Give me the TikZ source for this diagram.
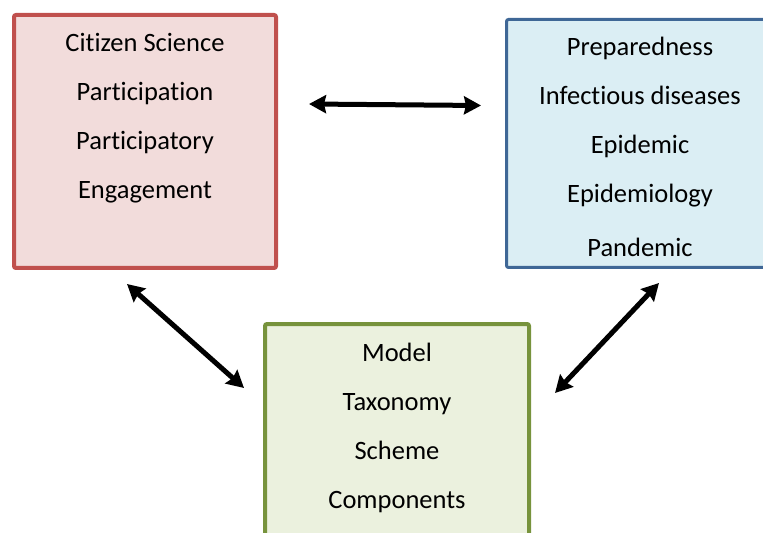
\documentclass[tikz,border=0pt]{standalone}
\usepackage{fontspec}
\setmainfont{Carlito}[Ligatures={NoCommon,NoRare,NoDiscretionary}]
\usetikzlibrary{arrows.meta}
\definecolor{redline}{HTML}{C0504D}
\definecolor{redfill}{HTML}{F2DCDB}
\definecolor{blueline}{HTML}{3F6796}
\definecolor{bluefill}{HTML}{DBEEF4}
\definecolor{greenline}{HTML}{77933C}
\definecolor{greenfill}{HTML}{EBF1DE}
\tikzset{
  box/.style={rounded corners=2bp},
  lbl/.style={anchor=base, inner sep=0pt, font=\fontsize{26.5bp}{30bp}\selectfont},
  dbl/.style={line width=5bp, {Stealth[length=17bp,width=18bp,inset=2bp]}-{Stealth[length=17bp,width=18bp,inset=2bp]}}
}
\begin{document}
\begin{tikzpicture}[x=1bp,y=-1bp]
\useasboundingbox (0,0) rectangle (763,533);
\begin{scope}
\clip (0,0) rectangle (763,533);
% boxes
\draw[box, draw=redline, fill=redfill, line width=4bp] (14,15) rectangle (276,268);
\draw[box, draw=blueline, fill=bluefill, line width=3bp] (506.5,19.5) rectangle (780,267.5);
\draw[box, draw=greenline, fill=greenfill, line width=4bp] (265,324) rectangle (529,560);
\end{scope}
% red labels
\node[lbl] (r1) at (145,51.7) {Citizen Science};
\node[lbl] (r2) at (145,100.7) {Participation};
\node[lbl] (r3) at (145,149.5) {Participatory};
\node[lbl] (r4) at (145,199) {Engagement};
% blue labels
\node[lbl] (b1) at (640,55.3) {Preparedness};
\node[lbl] (b2) at (640,104.3) {Infectious diseases};
\node[lbl] (b3) at (640,154) {Epidemic};
\node[lbl] (b4) at (640,203) {Epidemiology};
\node[lbl] (b5) at (640,256.7) {Pandemic};
% green labels
\node[lbl] (g1) at (397,361.7) {Model};
\node[lbl] (g2) at (397,410.7) {Taxonomy};
\node[lbl] (g3) at (397,459) {Scheme};
\node[lbl] (g4) at (397,508) {Components};
% arrow ends
\coordinate (ta) at (309,104);
\coordinate (tb) at (481,105.5);
\coordinate (la) at (127,284);
\coordinate (lb) at (244,388);
\coordinate (ra) at (659,283);
\coordinate (rb) at (555,393);
\draw[dbl] (ta) -- (tb);
\draw[dbl] (la) -- (lb);
\draw[dbl] (ra) -- (rb);
\end{tikzpicture}
\end{document}
